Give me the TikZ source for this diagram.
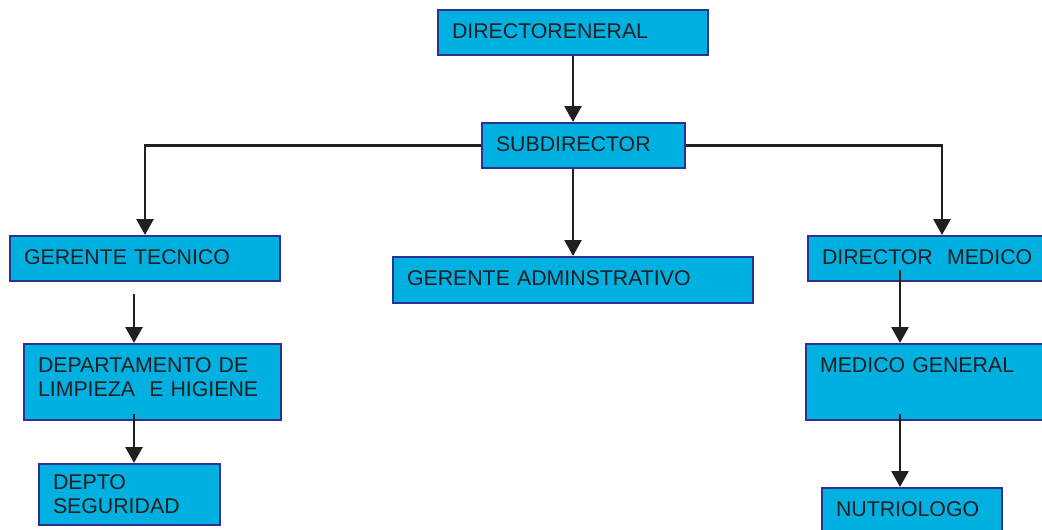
\documentclass[tikz,border=0pt]{standalone}
\usepackage{fontspec}
\setmainfont{Liberation Sans}
\usetikzlibrary{arrows.meta}
\definecolor{boxfill}{RGB}{0,176,224}
\definecolor{boxline}{RGB}{46,49,146}
\definecolor{lnk}{RGB}{35,31,32}
\tikzset{>/.tip={Triangle[length=16pt,width=17pt]},
  box/.style={draw=boxline, fill=boxfill, line width=2pt, inner xsep=14pt, inner ysep=0pt,
    anchor=north west, align=left, text=lnk, text depth=3pt, font=\fontsize{21.3}{24}\selectfont},
  link/.style={->, line width=2.8pt, draw=lnk}}
\begin{document}
\begin{tikzpicture}[x=1pt,y=-1pt]
\useasboundingbox (0,0) rectangle (1042,530);
\clip (0,0) rectangle (1042,530);
\node[box, text width=242pt, minimum height=45pt] (1) at (437,9) {DIRECTORENERAL};
\node[box, text width=175pt, minimum height=45pt] (2) at (481,122) {SUBDIRECTOR};
\node[box, text width=242pt, minimum height=45pt] (3) at (9,235) {GERENTE TECNICO};
\node[box, text width=332pt, minimum height=46pt] (4) at (392,256) {GERENTE ADMINSTRATIVO};
\node[box, text width=240pt, minimum height=45pt] (5) at (807,235) {DIRECTOR\ \ MEDICO};
\node[box, text width=229pt, minimum height=76pt, text depth=34pt] (6) at (23,343) {DEPARTAMENTO DE\\LIMPIEZA\ \ E HIGIENE};
\node[box, text width=153pt, minimum height=61pt, text depth=24pt] (7) at (38,463) {DEPTO\\SEGURIDAD};
\node[box, text width=242pt, minimum height=76pt, text depth=34pt] (8) at (805,343) {MEDICO GENERAL\\\mbox{}};
\node[box, text width=152pt, minimum height=45pt] (9) at (821,487) {NUTRIOLOGO};

\coordinate (a) at (134,294);
\coordinate (b) at (134,414);
\coordinate (c) at (900,270);
\coordinate (d) at (900,414);

\draw[link] (1.south) -- (1.south |- 2.north);
\draw[link] (2.west) -| (3.north);
\draw[link] (2.east) -| (5.north);
\draw[link] (4.north |- 2.south) -- (4.north);
\draw[link] (a) -- (a |- 6.north);
\draw[link] (b) -- (b |- 7.north);
\draw[link] (c) -- (c |- 8.north);
\draw[link] (d) -- (d |- 9.north);
\end{tikzpicture}
\end{document}
